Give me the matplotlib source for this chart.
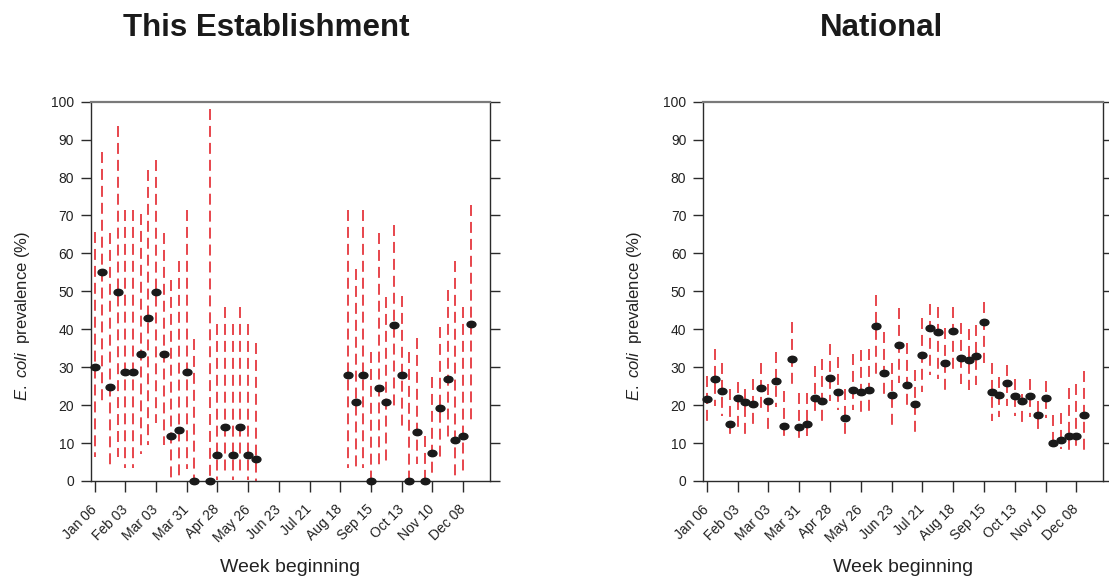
import numpy as np
import matplotlib
matplotlib.use("Agg")
import matplotlib.pyplot as plt
from matplotlib.path import Path

plt.rcParams['font.family'] = ['Liberation Sans', 'DejaVu Sans']
plt.rcParams['mathtext.fontset'] = 'custom'
plt.rcParams['mathtext.it'] = 'Liberation Sans:italic'
plt.rcParams['mathtext.rm'] = 'Liberation Sans'
plt.rcParams['lines.scale_dashes'] = False

# Week-beginning tick labels (every 4th week)
tick_labels = ["Jan 06", "Feb 03", "Mar 03", "Mar 31", "Apr 28", "May 26", "Jun 23",
               "Jul 21", "Aug 18", "Sep 15", "Oct 13", "Nov 10", "Dec 08"]

# This establishment: prevalence (%) and 95% interval by week (None = no samples)
est_prev = [30.0, 55.2, 24.8, 49.7, 28.8, 28.8, 33.6, 43.1, 49.7, 33.6, 11.9, 13.5, 28.8, 0.0,
            None, 0.0, 6.9, 14.3, 6.9, 14.3, 6.9, 5.8,
            None, None, None, None, None, None, None, None, None, None, None,
            28.0, 20.9, 28.0, 0.0, 24.6, 20.9, 41.0, 28.0, 0.0, 13.0, 0.0, 7.5, 19.3, 27.0,
            10.8, 11.9, 41.5, None, None]
est_low = [6.2, 20.7, 4.0, 6.3, 3.3, 3.3, 7.0, 9.5, 15.2, 9.5, 0.9, 1.1, 3.1, 0.0,
           None, 0.0, 0.2, 2.2, 0.2, 2.2, 0.2, 0.1,
           None, None, None, None, None, None, None, None, None, None, None,
           3.3, 3.5, 3.3, 0.0, 3.7, 5.3, 19.4, 14.5, 0.0, 4.4, 0.0, 1.9, 6.2, 11.5,
           0.2, 2.2, 15.6, None, None]
est_high = [65.6, 86.8, 65.4, 93.7, 71.4, 71.4, 70.5, 81.9, 84.6, 65.4, 53.0, 58.1, 71.4, 37.4,
            None, 98.0, 41.4, 45.8, 41.4, 45.8, 41.4, 36.3,
            None, None, None, None, None, None, None, None, None, None, None,
            71.4, 55.9, 71.4, 33.9, 65.4, 48.5, 67.4, 48.9, 33.9, 37.7, 11.9, 27.3, 40.5, 50.4,
            58.1, 45.8, 72.7, None, None]

# National: prevalence (%) and 95% interval by week
nat_prev = [21.5, 26.8, 23.6, 14.9, 22.0, 20.7, 20.2, 24.4, 21.2, 26.3, 14.6, 32.1, 14.3, 14.9,
            21.8, 21.2, 27.1, 23.4, 16.7, 23.9, 23.4, 23.9, 40.9, 28.4, 22.6, 35.8, 25.2, 20.4,
            33.2, 40.4, 39.3, 31.1, 39.6, 32.4, 31.9, 32.9, 41.9, 23.4, 22.6, 25.8, 22.3, 21.0,
            22.3, 17.3, 22.0, 10.1, 10.9, 11.9, 11.9, 17.3, None, None]
nat_low = [15.3, 19.7, 17.1, 12.2, 14.2, 12.1, 14.6, 19.1, 13.5, 19.5, 11.5, 25.0, 11.0, 11.9,
           18.1, 15.5, 21.2, 18.8, 12.2, 18.6, 17.9, 18.1, 27.9, 22.8, 14.8, 25.9, 19.7, 12.8,
           23.5, 27.9, 27.0, 23.9, 29.2, 25.7, 23.9, 25.2, 31.0, 15.8, 16.8, 19.9, 17.1, 15.2,
           16.8, 13.5, 16.6, 8.8, 8.4, 8.0, 8.4, 7.8, None, None]
nat_high = [27.6, 34.7, 31.0, 24.3, 26.1, 24.3, 26.9, 31.2, 25.5, 34.1, 23.6, 41.9, 23.3, 23.3,
            30.3, 32.1, 36.0, 32.6, 24.3, 33.6, 34.5, 34.7, 49.1, 39.4, 31.0, 45.6, 36.3, 29.2,
            42.9, 46.7, 45.8, 40.3, 45.8, 41.6, 40.0, 41.2, 47.1, 31.0, 27.4, 30.5, 26.8, 23.0,
            26.8, 21.2, 26.4, 17.5, 17.9, 24.6, 25.5, 28.9, None, None]

RED = '#e3262e'
DOT = '#1a1a1a'
AX_DARK = '#2b2b2b'
AX_GRAY = '#7a7a7a'

# slightly flattened dot marker
circ = Path.unit_circle()
dot_marker = Path(circ.vertices * np.array([1.0, 0.72]), circ.codes)

W, H = 1109, 578
fig = plt.figure(figsize=(W / 100, H / 100), dpi=100)

panels = [
    ((90.7, 490.0), "This Establishment", 266, est_prev, est_low, est_high),
    ((703.0, 1103.3), "National", 881, nat_prev, nat_low, nat_high),
]
y_top, y_bot = 101.7, 481.0

for (x0, x1), title, title_x, prev, low, high in panels:
    ax = fig.add_axes([x0 / W, 1 - y_bot / H, (x1 - x0) / W, (y_bot - y_top) / H])
    weeks = np.arange(len(prev))
    for w, p, lo, hi in zip(weeks, prev, low, high):
        if p is None:
            continue
        ax.plot([w, w], [hi, lo], color=RED, lw=1.2, linestyle=(0, (7.9, 4.3)),
                solid_capstyle='butt', dash_capstyle='butt', clip_on=False, zorder=2)
    pw = [w for w, p in zip(weeks, prev) if p is not None]
    pv = [p for p in prev if p is not None]
    ax.plot(pw, pv, linestyle='none', marker=dot_marker, markersize=6.4,
            color=DOT, mec=DOT, clip_on=False, zorder=3)

    ax.set_xlim(-0.5, 51.5)
    ax.set_ylim(0, 100)
    ax.set_yticks(np.arange(0, 101, 10))
    ax.set_xticks(np.arange(0, 49, 4))
    ax.set_xticklabels(tick_labels, rotation=45, ha='right', va='center',
                       rotation_mode='anchor', fontsize=10, color='#222222')
    ax.tick_params(axis='y', which='both', left=True, right=True, labelleft=True,
                   length=7, width=1, color=AX_DARK, labelsize=10, labelcolor='#222222', pad=5)
    ax.tick_params(axis='x', length=8, width=1, color=AX_DARK, pad=11)
    for side in ('left', 'bottom', 'right'):
        ax.spines[side].set_color(AX_DARK)
        ax.spines[side].set_linewidth(1.0)
    ax.spines['top'].set_color(AX_GRAY)
    ax.spines['top'].set_linewidth(1.6)

    ax.set_ylabel(r'$\mathit{E.\ coli}$  prevalence (%)', fontsize=12, color='#222222')
    ax.yaxis.set_label_coords(-0.148, 0.435)
    ax.set_xlabel('Week beginning', fontsize=14, color='#222222')
    ax.xaxis.set_label_coords(0.5, -0.205)

    fig.text(title_x / W, 1 - 28 / H, title, ha='center', va='center',
             fontsize=22.5, fontweight='bold', color='#1a1a1a')

fig.savefig('out.png', dpi=100)
